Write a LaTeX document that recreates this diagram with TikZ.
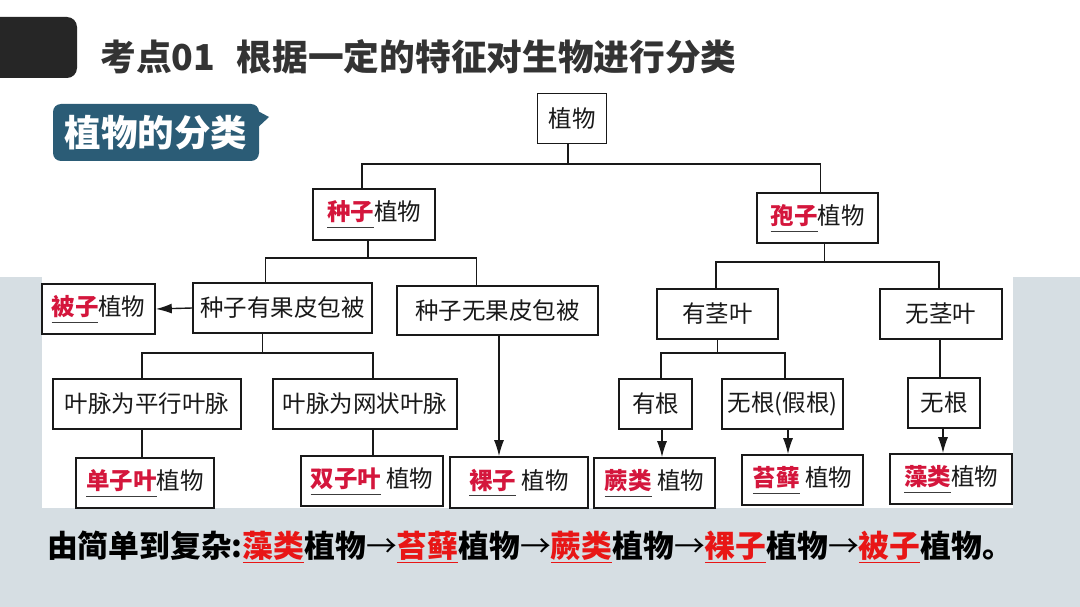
\documentclass[tikz,border=0pt]{standalone}
\usepackage{fontspec}
\usepackage{tikz}
\usetikzlibrary{arrows.meta}
\newfontfamily\cjk{Noto Sans CJK SC}
\definecolor{treered}{RGB}{212,22,60}
\definecolor{linered}{RGB}{232,22,22}
\definecolor{ulgray}{RGB}{60,60,60}
\definecolor{panelgray}{RGB}{214,222,227}
\definecolor{tagblue}{RGB}{43,92,118}
\definecolor{titlegray}{RGB}{51,51,51}
% red key word with a blank line under it
\newcommand{\keyw}[1]{{\color{ulgray}\underline{\textcolor{treered}{\bfseries #1}\rule[-5pt]{0pt}{1pt}}}}
\newcommand{\keyr}[1]{\textcolor{linered}{\underline{#1}}}
\newcommand{\nextto}{{\mdseries →}}

\begin{document}
\begin{tikzpicture}[x=1pt, y=-1pt,
  box/.style={draw=black!90, line width=1.6pt, fill=white, inner sep=0pt,
    minimum height=50pt, text=black!90, font=\cjk\fontsize{23.5}{26}\selectfont},
  link/.style={line width=1.4pt, black!90},
  arr/.style={link, -{Latex[length=16pt, width=10pt]}}]

\useasboundingbox (0,0) rectangle (1080,607);
\fill[white] (0,0) rectangle (1080,607);
\fill[panelgray] (0,277) rectangle (1080,607);
\fill[white] (42,277) rectangle (1013,508);

% heading
\fill[black!85, rounded corners=10pt] (-20,17) rectangle (77,78);
\node[anchor=west, text=titlegray, font=\cjk\bfseries\fontsize{35.7}{40}\selectfont] (title) at (97,57) {考点01\hspace{0.6em}根据一定的特征对生物进行分类};

\fill[tagblue] (254,109) -- (269,117) -- (254,131) -- cycle;
\node[fill=tagblue, rounded corners=8pt, inner sep=0pt, minimum width=206pt, minimum height=57pt,
  text=white, font=\cjk\bfseries\fontsize{36.5}{40}\selectfont] (tag) at (156,132.5) {植物的分类};

% tree
\node[box, minimum width=69pt] (plant) at (572,118.5) {植物};
\node[box, minimum width=122pt, minimum height=51pt] (seed) at (374,214.5) {\keyw{种子}植物};
\node[box, minimum width=121pt] (spore) at (817.5,218) {\keyw{孢子}植物};

\node[box, minimum width=179pt] (withpeel) at (282.5,308) {种子有果皮包被};
\node[box, minimum width=201pt, minimum height=49pt] (nopeel) at (497.5,310.5) {种子无果皮包被};
\node[box, minimum width=113pt] (angio) at (98.5,309) {\keyw{被子}植物};
\node[box, minimum width=188pt] (parallel) at (147,404) {叶脉为平行叶脉};
\node[box, minimum width=184pt] (netted) at (365,404) {叶脉为网状叶脉};
\node[box, minimum width=138pt] (mono) at (145,483) {\keyw{单子叶}植物};
\node[box, minimum width=142pt] (dico) at (372,481) {\keyw{双子叶} 植物};
\node[box, minimum width=138pt, minimum height=51pt] (gymno) at (519,482.5) {\keyw{裸子} 植物};

\node[box, minimum width=121pt] (stemleaf) at (717.5,314) {有茎叶};
\node[box, minimum width=122pt] (nostem) at (941,314) {无茎叶};
\node[box, minimum width=73pt] (root) at (655.5,404) {有根};
\node[box, minimum width=121pt] (fakeroot) at (782.5,404) {无根(假根)};
\node[box, minimum width=72pt] (noroot) at (944,403) {无根};
\node[box, minimum width=121pt] (fern) at (654.5,483) {\keyw{蕨类} 植物};
\node[box, minimum width=121pt] (moss) at (802.5,480) {\keyw{苔藓} 植物};
\node[box, minimum width=122pt] (algae) at (951,479) {\keyw{藻类}植物};

% joints of the tree
\coordinate (bar1) at (0,164);
\coordinate (bar2) at (0,258);
\coordinate (bar3) at (0,353);
\coordinate (bar4) at (0,262);
\coordinate (plantout) at ([xshift=-4pt]plant.south);
\coordinate (seedin) at ([xshift=-12pt]seed.north);
\coordinate (seedout) at ([xshift=-6pt]seed.south);
\coordinate (sporein) at ([xshift=3pt]spore.north);
\coordinate (sporeout) at ([xshift=7pt]spore.south);
\coordinate (within) at ([xshift=-17pt]withpeel.north);
\coordinate (without) at ([xshift=-20pt]withpeel.south);
\coordinate (nopeelin) at ([xshift=-21pt]nopeel.north);
\coordinate (nopeelout) at ([xshift=1.5pt]nopeel.south);
\coordinate (parin) at ([xshift=-5pt]parallel.north);
\coordinate (parout) at ([xshift=-5pt]parallel.south);
\coordinate (netin) at ([xshift=8pt]netted.north);
\coordinate (netout) at ([xshift=8pt]netted.south);
\coordinate (stemin) at ([xshift=-1.5pt]stemleaf.north);
\coordinate (nostemin) at ([xshift=-2pt]nostem.north);
\coordinate (rootin) at ([xshift=5.5pt]root.north);
\coordinate (rootout) at ([xshift=6.5pt]root.south);
\coordinate (fakein) at ([xshift=2.5pt]fakeroot.north);
\coordinate (fakeout) at ([xshift=5.5pt]fakeroot.south);
\coordinate (norootin) at ([xshift=-4pt]noroot.north);
\coordinate (norootout) at ([xshift=-1pt]noroot.south);

\draw[link] (plantout) -- (plantout |- bar1);
\draw[link] (seedin) |- (sporein |- bar1) -- (sporein);

\draw[link] (seedout) -- (seedout |- bar2);
\draw[link] (within) |- (nopeelin |- bar2) -- (nopeelin);
\draw[arr] (withpeel.west) -- (angio.east);

\draw[link] (without) -- (without |- bar3);
\draw[link] (parin) |- (netin |- bar3) -- (netin);
\draw[link] (parout) -- (parout |- mono.north);
\draw[link] (netout) -- (netout |- dico.north);
\draw[arr] (nopeelout) -- (nopeelout |- gymno.north);

\draw[link] (sporeout) -- (sporeout |- bar4);
\draw[link] (stemin) |- (nostemin |- bar4) -- (nostemin);

\draw[link] (stemleaf.south) -- (stemleaf.south |- bar3);
\draw[link] (rootin) |- (fakein |- bar3) -- (fakein);
\draw[link] (norootin |- nostem.south) -- (norootin);
\draw[arr] (rootout) -- (rootout |- fern.north);
\draw[arr] (fakeout) -- (fakeout |- moss.north);
\draw[arr] (norootout) -- (norootout |- algae.north);

% order of evolution
\node[anchor=west, inner sep=0pt, font=\cjk\bfseries\fontsize{30.8}{34}\selectfont] (order) at (47,547)
  {由简单到复杂:\keyr{藻类}植物\nextto\keyr{苔藓}植物\nextto\keyr{蕨类}植物\nextto\keyr{裸子}植物\nextto\keyr{被子}植物。};

\end{tikzpicture}
\end{document}
